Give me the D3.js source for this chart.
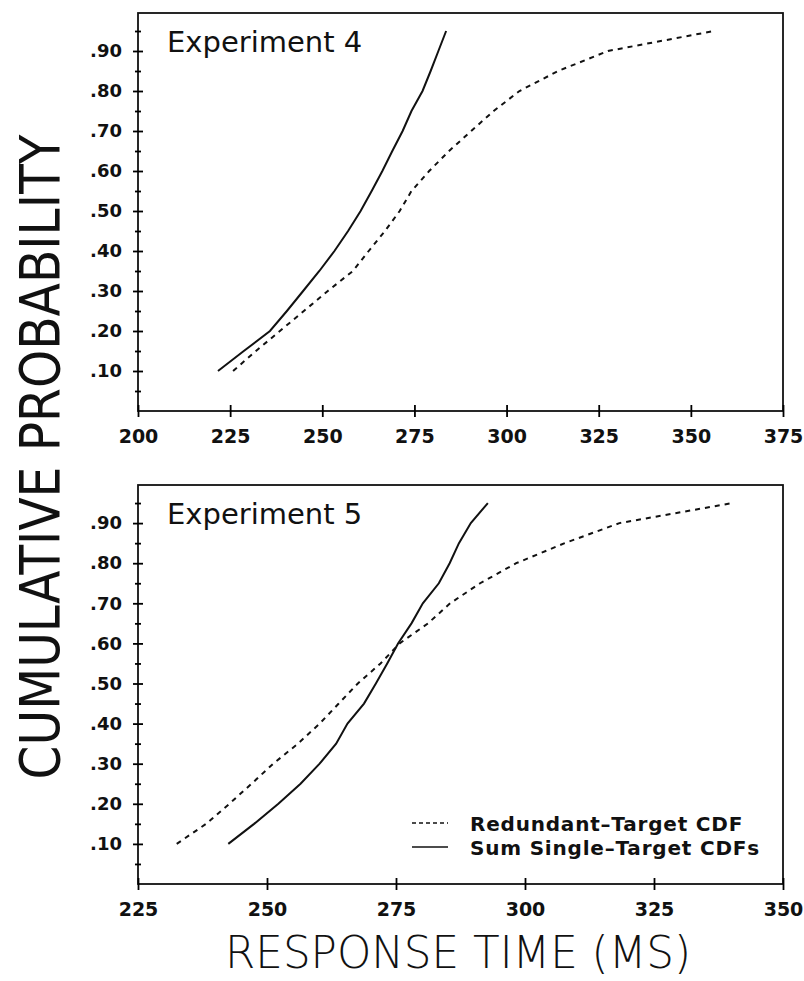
<!DOCTYPE html>
<html>
<head>
<meta charset="utf-8">
<script src="https://cdn.jsdelivr.net/npm/d3@7"></script>
<style>
  body { margin: 0; background: #fff; }
  svg { display: block; }
  .tick text { font-family: "DejaVu Sans", sans-serif; font-weight: bold; font-size: 17px; fill: #111; }
</style>
</head>
<body>
<svg id="chart" width="804" height="981"></svg>
<script>
// cumulative probability levels at which the quantiles were plotted
const probs = [0.10, 0.15, 0.20, 0.25, 0.30, 0.35, 0.40, 0.45, 0.50, 0.55, 0.60, 0.65, 0.70, 0.75, 0.80, 0.85, 0.90, 0.95]

// Experiment 4 (ms)
const exp4Redundant = [225.8, 232, 238.5, 245, 251.5, 258.3, 262.6, 267, 271, 274.2, 279, 284.4, 290.4, 296.5, 303.5, 314, 327.5, 356.3]
const exp4SumSingle = [221.7, 228.7, 235.8, 240.4, 244.8, 249.2, 253.3, 257, 260.4, 263.4, 266.3, 269, 271.8, 274.2, 277.2, 279.4, 281.5, 283.6]

// Experiment 5 (ms)
const exp5Redundant = [232.5, 238.2, 242.7, 247, 251.2, 256, 260.2, 263.9, 267.6, 272, 275.7, 281.2, 285.5, 291.3, 298.3, 307.7, 318.3, 340.2]
const exp5SumSingle = [242.5, 247.5, 252.2, 256.5, 260.2, 263.4, 265.6, 268.8, 271.1, 273.3, 275.4, 278, 280.2, 283.3, 285.4, 287.2, 289.5, 292.8]

const exp4Ticks = [200, 225, 250, 275, 300, 325, 350, 375]
const exp5Ticks = [225, 250, 275, 300, 325, 350]
const yMajor = [0.1, 0.2, 0.3, 0.4, 0.5, 0.6, 0.7, 0.8, 0.9]
const yMinor = [0.05, 0.15, 0.25, 0.35, 0.45, 0.55, 0.65, 0.75, 0.85, 0.95]

const legendLabels = ["Redundant\u2013Target CDF", "Sum Single\u2013Target CDFs"]

let svg = d3.select("#chart")
let font = '"DejaVu Sans", sans-serif'

let left = 138, right = 783

let drawPanel = (top, bottom, xTicks, redundant, sumSingle, title) => {
  let x = d3.scaleLinear().domain([xTicks[0], xTicks[xTicks.length - 1]]).range([left, right])
  let y = d3.scaleLinear().domain([0, 1]).range([bottom, top])
  let g = svg.append("g")

  // frame
  g.append("rect")
    .attr("x", left).attr("y", y(0.995))
    .attr("width", right - left).attr("height", bottom - y(0.995))
    .attr("fill", "none").attr("stroke", "#111").attr("stroke-width", 1.8)

  // y axis, crossing ticks
  let yAxis = g.append("g")
    .attr("transform", `translate(${left},0)`)
    .call(d3.axisLeft(y).tickValues(yMajor).tickFormat(d => d3.format(".2f")(d).slice(1)).tickPadding(10))
  yAxis.select(".domain").remove()
  yAxis.selectAll(".tick line").attr("x1", -5).attr("x2", 5).attr("stroke-width", 1.8)
  yAxis.selectAll(".tick text").style("font-size", "18px")

  let yMin = g.append("g")
    .attr("transform", `translate(${left},0)`)
    .call(d3.axisLeft(y).tickValues(yMinor).tickFormat(""))
  yMin.select(".domain").remove()
  yMin.selectAll(".tick line").attr("x1", -3).attr("x2", 3).attr("stroke-width", 1.8)

  // x axis
  let xAxis = g.append("g")
    .attr("transform", `translate(0,${bottom})`)
    .call(d3.axisBottom(x).tickValues(xTicks).tickFormat(d3.format("d")).tickPadding(13))
  xAxis.select(".domain").remove()
  xAxis.selectAll(".tick line").attr("y1", -6).attr("y2", 6).attr("stroke-width", 1.8)
  xAxis.selectAll(".tick text").style("font-size", "19px")

  let line = d3.line().x(d => x(d[0])).y(d => y(d[1]))

  g.append("path")
    .datum(redundant.map((v, i) => [v, probs[i]]))
    .attr("d", line)
    .attr("fill", "none").attr("stroke", "#111")
    .attr("stroke-width", 2).attr("stroke-dasharray", "5,5")

  g.append("path")
    .datum(sumSingle.map((v, i) => [v, probs[i]]))
    .attr("d", line)
    .attr("fill", "none").attr("stroke", "#111")
    .attr("stroke-width", 2)

  g.append("text")
    .attr("x", 167).attr("y", top + 41)
    .style("font-family", font).style("font-size", "29px").attr("fill", "#111")
    .text(title)

  return { x, y }
}

drawPanel(11, 411, exp4Ticks, exp4Redundant, exp4SumSingle, "Experiment 4")
drawPanel(483, 884, exp5Ticks, exp5Redundant, exp5SumSingle, "Experiment 5")

// legend in lower panel
let legend = svg.append("g")
legendLabels.forEach((label, i) => {
  let ly = 823 + i * 24
  legend.append("line")
    .attr("x1", 412).attr("x2", 448).attr("y1", ly).attr("y2", ly)
    .attr("stroke", "#111").attr("stroke-width", 1.6)
    .attr("stroke-dasharray", i === 0 ? "4,3" : null)
  legend.append("text")
    .attr("x", 470).attr("y", ly + 8)
    .style("font-family", font).style("font-size", "20px").style("font-weight", "bold")
    .style("letter-spacing", "0.8px")
    .attr("fill", "#111")
    .text(label)
})

// axis titles
svg.append("text")
  .attr("transform", "translate(59,457) rotate(-90)")
  .attr("text-anchor", "middle")
  .attr("textLength", 645).attr("lengthAdjust", "spacingAndGlyphs")
  .style("font-family", '"DejaVu Sans Condensed", "DejaVu Sans", sans-serif')
  .style("font-weight", 200).style("font-size", "56px").attr("fill", "#111")
  .text("CUMULATIVE PROBABILITY")

svg.append("text")
  .attr("x", 458).attr("y", 968)
  .attr("text-anchor", "middle")
  .attr("textLength", 466).attr("lengthAdjust", "spacingAndGlyphs")
  .style("font-family", '"DejaVu Sans", sans-serif')
  .style("font-weight", 300).style("font-size", "45px").attr("fill", "#111")
  .text("RESPONSE TIME (MS)")
</script>
</body>
</html>
